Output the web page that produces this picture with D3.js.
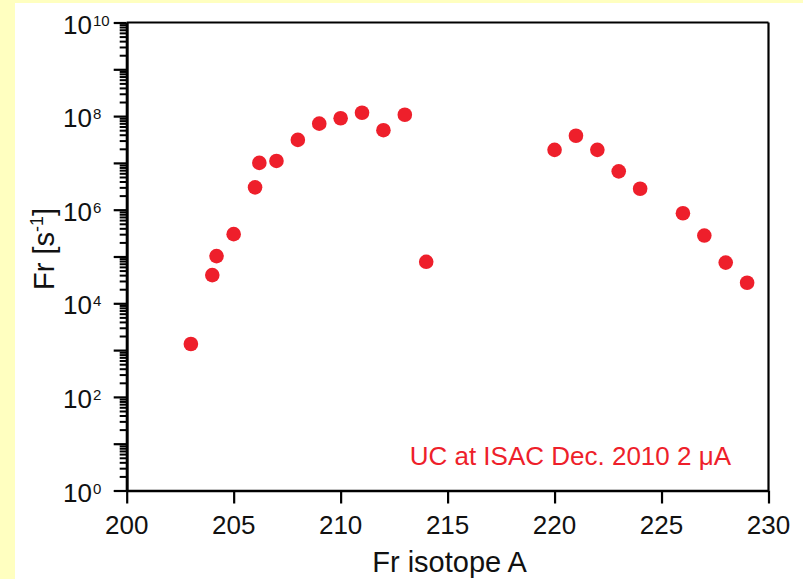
<!DOCTYPE html>
<html><head><meta charset="utf-8">
<script src="https://cdn.jsdelivr.net/npm/d3@7"></script>
<style>
html,body{margin:0;padding:0;background:#ffffc0;}
svg{display:block;font-family:"Liberation Sans",Arial,sans-serif;}
</style></head>
<body>
<svg id="c" width="803" height="579"></svg>
<script>
// Data
const isotopeA = [203, 204, 204.2, 205, 206, 206.2, 207, 208, 209, 210, 211, 212, 213, 214,
                  220, 221, 222, 223, 224, 226, 227, 228, 229];
const yieldFr = [1.35e3, 4.0e4, 1.02e5, 3.0e5, 3.0e6, 1.0e7, 1.1e7, 3.1e7, 6.9e7, 9.0e7, 1.18e8, 5.0e7, 1.07e8, 7.7e4,
                 1.9e7, 3.8e7, 1.9e7, 6.6e6, 2.8e6, 8.4e5, 2.8e5, 7.4e4, 2.75e4];
const xTicks = [200, 205, 210, 215, 220, 225, 230];
const yDecades = [0,1,2,3,4,5,6,7,8,9,10];
const yLabelExps = [0, 2, 4, 6, 8, 10];
const annotation = "UC at ISAC Dec. 2010 2 \u03bcA";
const xTitle = "Fr isotope A";

const svg = d3.select("#c");
const red = "#ee1f2b";

// white panel
svg.append("rect").attr("x",15).attr("y",3).attr("width",803-15).attr("height",579-3).attr("fill","#ffffff");

const x = d3.scaleLinear().domain([200,230]).range([126.7,768.5]);
const y = d3.scaleLog().domain([1,1e10]).range([490.5,22.5]);

// frame top & right
svg.append("line").attr("x1",x(200)).attr("x2",x(230)).attr("y1",y(1e10)).attr("y2",y(1e10))
  .attr("stroke","#000").attr("stroke-width",2.2);
svg.append("line").attr("x1",x(230)).attr("x2",x(230)).attr("y1",y(1e10)).attr("y2",y(1))
  .attr("stroke","#000").attr("stroke-width",2.2);

// minor y ticks
const minorVals = [];
for (let k=0;k<10;k++) for (let m=2;m<=9;m++) minorVals.push(m*Math.pow(10,k));
const yMinor = svg.append("g").attr("transform",`translate(${x(200)},0)`)
  .call(d3.axisLeft(y).tickValues(minorVals).tickSize(7).tickFormat(""));
yMinor.select(".domain").remove();
yMinor.selectAll("line").attr("stroke-width",2);

const yMajor = svg.append("g").attr("transform",`translate(${x(200)},0)`)
  .call(d3.axisLeft(y).tickValues(yDecades.map(e=>Math.pow(10,e))).tickSize(13).tickSizeOuter(0).tickFormat(""));
yMajor.select(".domain").attr("stroke-width",3);
yMajor.selectAll("line").attr("stroke-width",2.2);

// y labels
const yl = svg.append("g").selectAll("g").data(yLabelExps).join("g");
yl.append("text").attr("x",92).attr("y",e=>y(Math.pow(10,e))+11)
  .attr("text-anchor","end").attr("font-size",26).attr("fill","#111").text("10");
yl.append("text").attr("x",93).attr("y",e=>y(Math.pow(10,e))+3)
  .attr("text-anchor","start").attr("font-size",15).attr("fill","#111").text(e=>e);

// x axis
const xa = svg.append("g").attr("transform",`translate(0,${y(1)})`)
  .call(d3.axisBottom(x).tickValues(xTicks).tickSize(13).tickSizeOuter(0).tickFormat(""));
xa.select(".domain").attr("stroke-width",2.6);
xa.selectAll("line").attr("stroke-width",2.2);
svg.append("g").selectAll("text").data(xTicks).join("text")
  .attr("x",d=>x(d)).attr("y",534).attr("text-anchor","middle")
  .attr("font-size",26).attr("fill","#111").text(d=>d);

// axis titles
svg.append("text").attr("x",x(215)+2).attr("y",572).attr("text-anchor","middle")
  .attr("font-size",29).attr("fill","#111").text(xTitle);
const yt = svg.append("text").attr("transform","translate(54,249) rotate(-90)")
  .attr("text-anchor","middle").attr("font-size",29).attr("fill","#111");
yt.append("tspan").text("Fr [s");
yt.append("tspan").attr("font-size",18).attr("dy",-11).text("-1");
yt.append("tspan").attr("dy",11).text("]");

// points
svg.append("g").selectAll("circle").data(isotopeA).join("circle")
  .attr("cx",(d)=>x(d)).attr("cy",(d,i)=>y(yieldFr[i])).attr("r",7.3).attr("fill",red);

// annotation
svg.append("text").attr("x",731).attr("y",465).attr("text-anchor","end")
  .attr("font-size",26).attr("fill",red).text(annotation);
</script>
</body></html>
